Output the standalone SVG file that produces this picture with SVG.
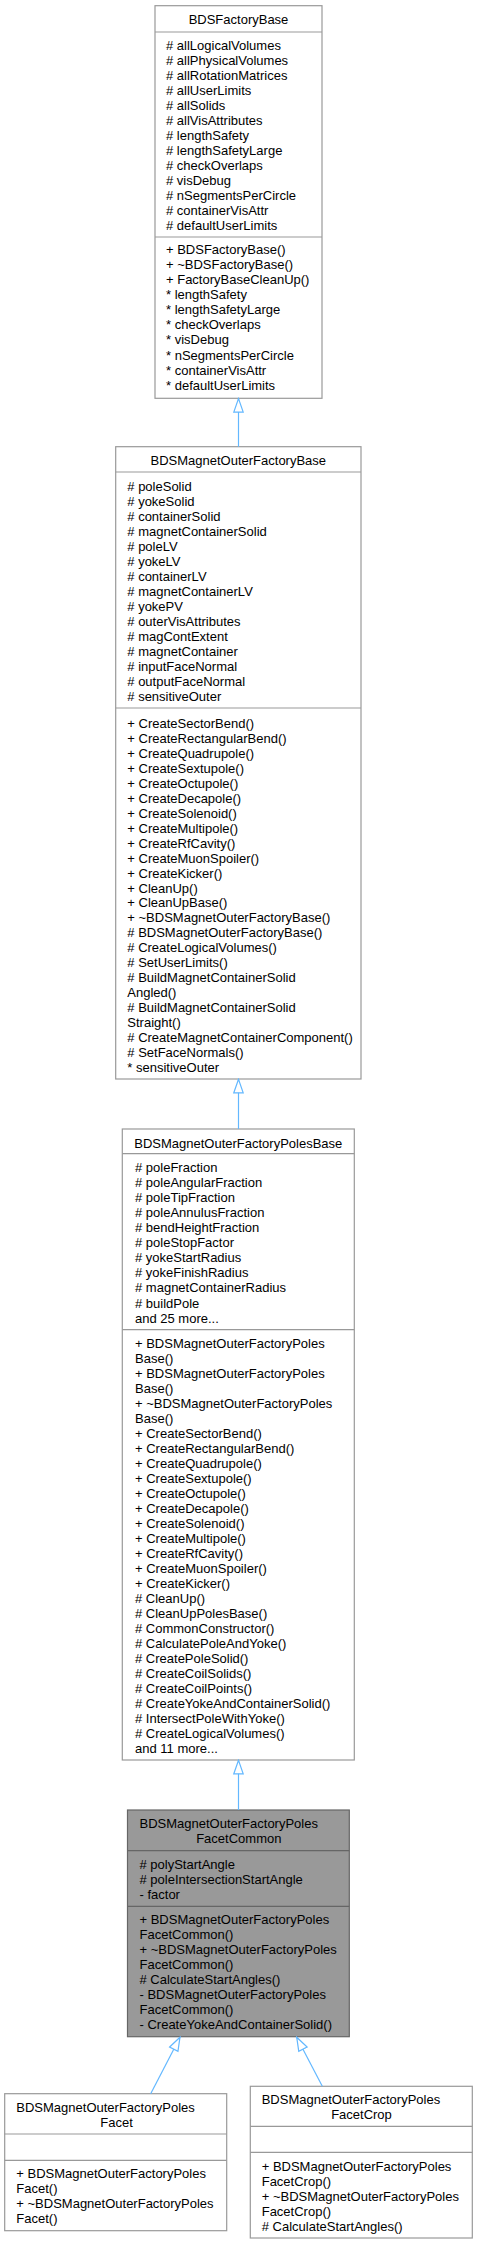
<svg xmlns="http://www.w3.org/2000/svg" width="477" height="2244" viewBox="0 0 477 2244">
<style>
text{font-family:"Liberation Sans",Arial,Helvetica,sans-serif;font-size:13px;fill:#000}
.c{text-anchor:middle}
.box{fill:#fff;stroke:#999;stroke-width:1.2}
.sep{stroke:#999;stroke-width:1.2}
.hbox{fill:#999;stroke:#666;stroke-width:1.2}
.hsep{stroke:#666;stroke-width:1.2}
.edge{fill:none;stroke:#63b8ff;stroke-width:1.2}
</style>
<defs>
<marker id="tri" markerUnits="userSpaceOnUse" viewBox="-1 -6 16 12" markerWidth="16" markerHeight="12" refX="13.5" refY="0" orient="auto">
<path d="M0,-4.7 L13.5,0 L0,4.7 Z" fill="#fff" stroke="#63b8ff" stroke-width="1.2"/>
</marker>
</defs>

<g id="node1">
<rect class="box" x="155" y="5.7" width="167" height="392.6"/>
<text class="c" x="238.5" y="24.3">BDSFactoryBase</text>
<line class="sep" x1="155" y1="32" x2="322" y2="32"/>
<text x="166" y="49.5"># allLogicalVolumes</text>
<text x="166" y="64.6"># allPhysicalVolumes</text>
<text x="166" y="79.6"># allRotationMatrices</text>
<text x="166" y="94.7"># allUserLimits</text>
<text x="166" y="109.7"># allSolids</text>
<text x="166" y="124.8"># allVisAttributes</text>
<text x="166" y="139.9"># lengthSafety</text>
<text x="166" y="154.9"># lengthSafetyLarge</text>
<text x="166" y="170.0"># checkOverlaps</text>
<text x="166" y="185.0"># visDebug</text>
<text x="166" y="200.1"># nSegmentsPerCircle</text>
<text x="166" y="215.2"># containerVisAttr</text>
<text x="166" y="230.2"># defaultUserLimits</text>
<line class="sep" x1="155" y1="237" x2="322" y2="237"/>
<text x="166" y="253.8">+ BDSFactoryBase()</text>
<text x="166" y="268.9">+ ~BDSFactoryBase()</text>
<text x="166" y="284.0">+ FactoryBaseCleanUp()</text>
<text x="166" y="299.1">* lengthSafety</text>
<text x="166" y="314.2">* lengthSafetyLarge</text>
<text x="166" y="329.3">* checkOverlaps</text>
<text x="166" y="344.4">* visDebug</text>
<text x="166" y="359.5">* nSegmentsPerCircle</text>
<text x="166" y="374.6">* containerVisAttr</text>
<text x="166" y="389.7">* defaultUserLimits</text>
</g>

<g id="node2">
<rect class="box" x="115.7" y="446.7" width="245.3" height="632.3"/>
<text class="c" x="238.3" y="465">BDSMagnetOuterFactoryBase</text>
<line class="sep" x1="115.7" y1="472" x2="361" y2="472"/>
<text x="127.3" y="491.2"># poleSolid</text>
<text x="127.3" y="506.2"># yokeSolid</text>
<text x="127.3" y="521.2"># containerSolid</text>
<text x="127.3" y="536.2"># magnetContainerSolid</text>
<text x="127.3" y="551.2"># poleLV</text>
<text x="127.3" y="566.2"># yokeLV</text>
<text x="127.3" y="581.2"># containerLV</text>
<text x="127.3" y="596.2"># magnetContainerLV</text>
<text x="127.3" y="611.2"># yokePV</text>
<text x="127.3" y="626.2"># outerVisAttributes</text>
<text x="127.3" y="641.2"># magContExtent</text>
<text x="127.3" y="656.2"># magnetContainer</text>
<text x="127.3" y="671.2"># inputFaceNormal</text>
<text x="127.3" y="686.2"># outputFaceNormal</text>
<text x="127.3" y="701.2"># sensitiveOuter</text>
<line class="sep" x1="115.7" y1="708" x2="361" y2="708"/>
<text x="127.3" y="727.8">+ CreateSectorBend()</text>
<text x="127.3" y="742.8">+ CreateRectangularBend()</text>
<text x="127.3" y="757.7">+ CreateQuadrupole()</text>
<text x="127.3" y="772.7">+ CreateSextupole()</text>
<text x="127.3" y="787.7">+ CreateOctupole()</text>
<text x="127.3" y="802.7">+ CreateDecapole()</text>
<text x="127.3" y="817.6">+ CreateSolenoid()</text>
<text x="127.3" y="832.6">+ CreateMultipole()</text>
<text x="127.3" y="847.6">+ CreateRfCavity()</text>
<text x="127.3" y="862.5">+ CreateMuonSpoiler()</text>
<text x="127.3" y="877.5">+ CreateKicker()</text>
<text x="127.3" y="892.5">+ CleanUp()</text>
<text x="127.3" y="907.4">+ CleanUpBase()</text>
<text x="127.3" y="922.4">+ ~BDSMagnetOuterFactoryBase()</text>
<text x="127.3" y="937.4"># BDSMagnetOuterFactoryBase()</text>
<text x="127.3" y="952.4"># CreateLogicalVolumes()</text>
<text x="127.3" y="967.3"># SetUserLimits()</text>
<text x="127.3" y="982.3"># BuildMagnetContainerSolid</text>
<text x="127.3" y="997.3">Angled()</text>
<text x="127.3" y="1012.2"># BuildMagnetContainerSolid</text>
<text x="127.3" y="1027.2">Straight()</text>
<text x="127.3" y="1042.2"># CreateMagnetContainerComponent()</text>
<text x="127.3" y="1057.1"># SetFaceNormals()</text>
<text x="127.3" y="1072.1">* sensitiveOuter</text>
</g>

<g id="node3">
<rect class="box" x="122.3" y="1129" width="232" height="631"/>
<text class="c" x="238.3" y="1147.7">BDSMagnetOuterFactoryPolesBase</text>
<line class="sep" x1="122.3" y1="1153.7" x2="354.3" y2="1153.7"/>
<text x="135" y="1172.2"># poleFraction</text>
<text x="135" y="1187.2"># poleAngularFraction</text>
<text x="135" y="1202.3"># poleTipFraction</text>
<text x="135" y="1217.3"># poleAnnulusFraction</text>
<text x="135" y="1232.3"># bendHeightFraction</text>
<text x="135" y="1247.4"># poleStopFactor</text>
<text x="135" y="1262.4"># yokeStartRadius</text>
<text x="135" y="1277.4"># yokeFinishRadius</text>
<text x="135" y="1292.4"># magnetContainerRadius</text>
<text x="135" y="1307.5"># buildPole</text>
<text x="135" y="1322.5">and 25 more...</text>
<line class="sep" x1="122.3" y1="1329.7" x2="354.3" y2="1329.7"/>
<text x="135" y="1347.8">+ BDSMagnetOuterFactoryPoles</text>
<text x="135" y="1362.8">Base()</text>
<text x="135" y="1377.8">+ BDSMagnetOuterFactoryPoles</text>
<text x="135" y="1392.8">Base()</text>
<text x="135" y="1407.8">+ ~BDSMagnetOuterFactoryPoles</text>
<text x="135" y="1422.9">Base()</text>
<text x="135" y="1437.9">+ CreateSectorBend()</text>
<text x="135" y="1452.9">+ CreateRectangularBend()</text>
<text x="135" y="1467.9">+ CreateQuadrupole()</text>
<text x="135" y="1482.9">+ CreateSextupole()</text>
<text x="135" y="1497.9">+ CreateOctupole()</text>
<text x="135" y="1512.9">+ CreateDecapole()</text>
<text x="135" y="1528.0">+ CreateSolenoid()</text>
<text x="135" y="1543.0">+ CreateMultipole()</text>
<text x="135" y="1558.0">+ CreateRfCavity()</text>
<text x="135" y="1573.0">+ CreateMuonSpoiler()</text>
<text x="135" y="1588.0">+ CreateKicker()</text>
<text x="135" y="1603.0"># CleanUp()</text>
<text x="135" y="1618.0"># CleanUpPolesBase()</text>
<text x="135" y="1633.0"># CommonConstructor()</text>
<text x="135" y="1648.1"># CalculatePoleAndYoke()</text>
<text x="135" y="1663.1"># CreatePoleSolid()</text>
<text x="135" y="1678.1"># CreateCoilSolids()</text>
<text x="135" y="1693.1"># CreateCoilPoints()</text>
<text x="135" y="1708.1"># CreateYokeAndContainerSolid()</text>
<text x="135" y="1723.1"># IntersectPoleWithYoke()</text>
<text x="135" y="1738.1"># CreateLogicalVolumes()</text>
<text x="135" y="1753.1">and 11 more...</text>
</g>

<g id="node4">
<rect class="hbox" x="127.5" y="1810" width="221.8" height="226.7"/>
<text x="139.5" y="1827.8">BDSMagnetOuterFactoryPoles</text>
<text class="c" x="238.8" y="1843.3">FacetCommon</text>
<line class="hsep" x1="127.5" y1="1850.7" x2="349.3" y2="1850.7"/>
<text x="139.5" y="1868.8"># polyStartAngle</text>
<text x="139.5" y="1883.8"># poleIntersectionStartAngle</text>
<text x="139.5" y="1898.8">- factor</text>
<line class="hsep" x1="127.5" y1="1906.3" x2="349.3" y2="1906.3"/>
<text x="139.5" y="1923.8">+ BDSMagnetOuterFactoryPoles</text>
<text x="139.5" y="1938.8">FacetCommon()</text>
<text x="139.5" y="1953.8">+ ~BDSMagnetOuterFactoryPoles</text>
<text x="139.5" y="1968.8">FacetCommon()</text>
<text x="139.5" y="1983.8"># CalculateStartAngles()</text>
<text x="139.5" y="1998.8">- BDSMagnetOuterFactoryPoles</text>
<text x="139.5" y="2013.8">FacetCommon()</text>
<text x="139.5" y="2028.8">- CreateYokeAndContainerSolid()</text>
</g>

<g id="node5">
<rect class="box" x="4.7" y="2093.7" width="222" height="137"/>
<text x="16.3" y="2112.2">BDSMagnetOuterFactoryPoles</text>
<text class="c" x="116.5" y="2127.2">Facet</text>
<line class="sep" x1="4.7" y1="2134" x2="226.7" y2="2134"/>
<line class="sep" x1="4.7" y1="2160.3" x2="226.7" y2="2160.3"/>
<text x="16.3" y="2178.2">+ BDSMagnetOuterFactoryPoles</text>
<text x="16.3" y="2193.2">Facet()</text>
<text x="16.3" y="2208.2">+ ~BDSMagnetOuterFactoryPoles</text>
<text x="16.3" y="2223.2">Facet()</text>
</g>

<g id="node6">
<rect class="box" x="250.3" y="2086.3" width="222" height="151.7"/>
<text x="261.7" y="2103.8">BDSMagnetOuterFactoryPoles</text>
<text class="c" x="361.5" y="2118.8">FacetCrop</text>
<line class="sep" x1="250.3" y1="2126.3" x2="472.3" y2="2126.3"/>
<line class="sep" x1="250.3" y1="2152.3" x2="472.3" y2="2152.3"/>
<text x="261.7" y="2171.2">+ BDSMagnetOuterFactoryPoles</text>
<text x="261.7" y="2186.2">FacetCrop()</text>
<text x="261.7" y="2201.2">+ ~BDSMagnetOuterFactoryPoles</text>
<text x="261.7" y="2216.2">FacetCrop()</text>
<text x="261.7" y="2231.2"># CalculateStartAngles()</text>
</g>

<g id="edges">
<path class="edge" d="M238.5,446.7 L238.5,398.6" marker-end="url(#tri)"/>
<path class="edge" d="M238.5,1129 L238.5,1079.3" marker-end="url(#tri)"/>
<path class="edge" d="M238.5,1810 L238.5,1760.3" marker-end="url(#tri)"/>
<path class="edge" d="M150.7,2093.7 L180,2037.2" marker-end="url(#tri)"/>
<path class="edge" d="M322.3,2086.3 L296.7,2037.2" marker-end="url(#tri)"/>
</g>
</svg>
